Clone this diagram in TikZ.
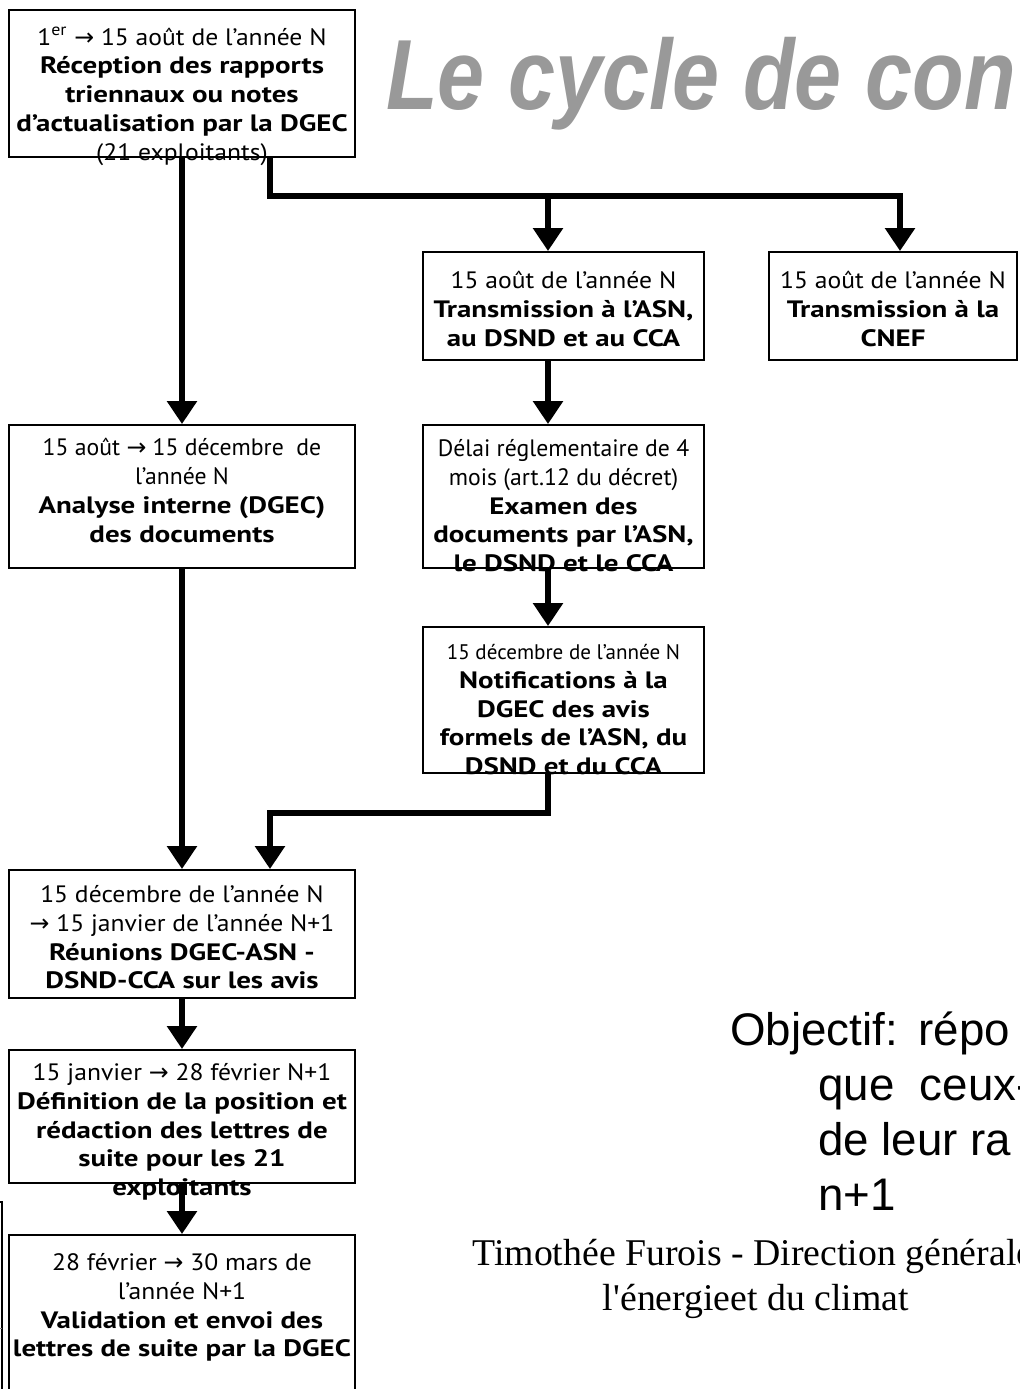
\documentclass[tikz,border=0pt]{standalone}
\usepackage{fontspec}
\usepackage{graphicx}
\usepackage{tikz}
\usetikzlibrary{arrows.meta}

\newfontfamily\boxfont[FakeStretch=1.08]{PT Sans}
\newfontfamily\boxcond{PT Sans}
\newfontfamily\boxbold[FakeStretch=1.22]{PT Sans}
\newfontfamily\arrowfont{DejaVu Sans}
\newfontfamily\titlefont{Liberation Sans}
\newfontfamily\footfont{Liberation Serif}
\newcommand{\hd}[1]{{\boxbold\bfseries #1}}
\definecolor{titlegray}{HTML}{999999}

\tikzset{
  stage/.style={draw, line width=1.1pt, inner sep=0pt},
  stagetext/.style={anchor=north, align=center, inner sep=0pt,
    font=\boxfont\fontsize{13.5}{16.4}\selectfont},
  link/.style={line width=3.2pt},
  flow/.style={line width=3.2pt, -{Triangle[length=0.46cm,width=0.58cm]}},
}

\begin{document}
\begin{tikzpicture}[x=0.02cm, y=-0.02cm]
\useasboundingbox (0,0) rectangle (1019,1389);
\clip (0,0) rectangle (1019,1389);

% title
\node[anchor=base west, inner sep=0pt, text=titlegray,
  font=\titlefont\bfseries\itshape\fontsize{48.1}{50}\selectfont]
  (title) at (386,110) {\scalebox{1}[1.18]{Le cycle de con}};

% boxes
\node[stage, minimum width=6.92cm, minimum height=2.94cm] (recept) at (182,83.5) {};
\node[stage, minimum width=5.62cm, minimum height=2.16cm] (asn) at (563.5,306) {};
\node[stage, minimum width=4.96cm, minimum height=2.16cm] (cnef) at (893,306) {};
\node[stage, minimum width=6.92cm, minimum height=2.86cm] (analyse) at (182,496.5) {};
\node[stage, minimum width=5.62cm, minimum height=2.86cm] (examen) at (563.5,496.5) {};
\node[stage, minimum width=5.62cm, minimum height=2.92cm] (notif) at (563.5,700) {};
\node[stage, minimum width=6.92cm, minimum height=2.56cm] (reunion) at (182,934) {};
\node[stage, minimum width=6.92cm, minimum height=2.66cm] (definition) at (182,1116.5) {};
\node[stage, minimum width=6.92cm, minimum height=3.30cm] (validation) at (182,1317.5) {};

% box texts
\node[stagetext] (recept-t) at (182,27) {1\textsuperscript{er} {\arrowfont →} 15 août de l’année N\\
  \hd{Réception des rapports}\\ \hd{triennaux ou notes}\\
  \hd{d’actualisation par la DGEC}\\ (21 exploitants)};
\node[stagetext] (asn-t) at (563.5,271) {15 août de l’année N\\
  \hd{Transmission à l’ASN,}\\ \hd{au DSND et au CCA}};
\node[stagetext] (cnef-t) at (893,271) {15 août de l’année N\\
  \hd{Transmission à la}\\ \hd{CNEF}};
\node[stagetext] (analyse-t) at (182,438) {{\boxcond 15 août {\arrowfont →} 15 décembre~ de}\\ {\boxcond l’année N}\\
  \hd{Analyse interne (DGEC)}\\ \hd{des documents}};
\node[stagetext] (examen-t) at (563.5,439) {{\boxcond Délai réglementaire de 4}\\ {\boxcond mois (art.12 du décret)}\\
  \hd{Examen des}\\ \hd{documents par l’ASN,}\\ \hd{le DSND et le CCA}};
\node[stagetext] (notif-t) at (563.5,644) {{\boxcond\fontsize{12}{16.4}\selectfont 15 décembre de l’année N}\\
  \hd{Notifications à la}\\ \hd{DGEC des avis}\\
  \hd{formels de l’ASN, du}\\ \hd{DSND et du CCA}};
\node[stagetext] (reunion-t) at (182,885) {15 décembre de l’année N\\
  {\arrowfont →} 15 janvier de l’année N+1\\
  \hd{Réunions DGEC-ASN -}\\ \hd{DSND-CCA sur les avis}};
\node[stagetext] (definition-t) at (182,1063) {15 janvier {\arrowfont →} 28 février N+1\\
  \hd{Définition de la position et}\\ \hd{rédaction des lettres de}\\
  \hd{suite pour les 21}\\ \hd{exploitants}};
\node[stagetext] (validation-t) at (182,1253) {28 février {\arrowfont →} 30 mars de\\ l’année N+1\\
  \hd{Validation et envoi des}\\ \hd{lettres de suite par la DGEC}};

% edge of a box cut by the frame
\draw[line width=0.8pt] (-20,1202) -- (2,1202) -- (2,1400);
\draw[gray] (-20,1328) -- (2,1328);

% connectors
\coordinate (out1) at ([xshift=1.76cm]recept.south);
\coordinate (in2) at ([xshift=1.76cm]reunion.north);
\coordinate (asnin) at ([xshift=-0.31cm]asn.north);
\coordinate (cnefin) at ([xshift=0.14cm]cnef.north);
\coordinate (bus) at (0,196);

\draw[flow] (recept.south) -- (analyse.north);
\draw[flow] (out1) -- (out1 |- bus) -| (cnefin);
\draw[flow] (asnin |- bus) -- (asnin);
\draw[flow] (asnin |- asn.south) -- (asnin |- examen.north);
\draw[flow] (asnin |- examen.south) -- (asnin |- notif.north);
\draw[flow] (asnin |- notif.south) -- ++(0,39) -| (in2);
\draw[flow] (analyse.south) -- (reunion.north);
\draw[flow] (reunion.south) -- (definition.north);
\draw[flow] (definition.south) -- (validation.north);

% objective and footer
\node[anchor=base west, align=left, inner sep=0pt,
  font=\titlefont\fontsize{26}{31.3}\selectfont]
  (objectif) at (730,1210) {Objectif:\hspace{0.45em}répo\\ \hspace*{1.76cm}que~ ceux-\\
  \hspace*{1.76cm}de leur ra\\ \hspace*{1.76cm}n+1};
\node[anchor=base west, inner sep=0pt, font=\footfont\fontsize{21.5}{26}\selectfont]
  (auteur) at (472,1265) {Timothée Furois - Direction générale};
\node[anchor=base, inner sep=0pt, font=\footfont\fontsize{21.5}{26}\selectfont]
  (auteur2) at (756,1310) {l'énergieet du climat};
\end{tikzpicture}
\end{document}
